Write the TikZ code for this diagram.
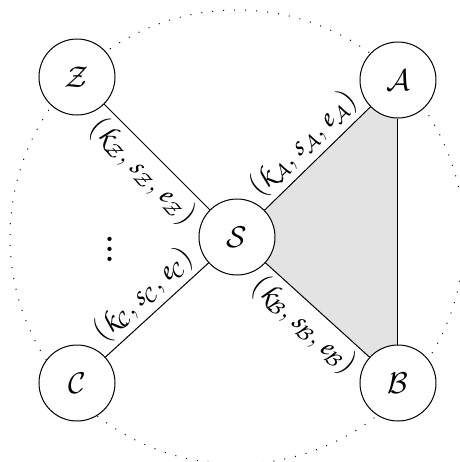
\documentclass[tikz,border=0pt]{standalone}
\DeclareMathAlphabet{\mathpzc}{OT1}{pzc}{m}{it}
\begin{document}
\begin{tikzpicture}[x=0.4pt,y=-0.4pt,
  party/.style={circle,draw,fill=white,minimum size=30.4pt,inner sep=0pt,font=\large},
  lab/.style={sloped,font=\large,inner sep=2pt}]
\useasboundingbox (0,0) rectangle (460,462);
\draw[dash pattern=on 0.4pt off 4pt] (237,237) circle[radius=227];
\coordinate (cS) at (237,237);
\coordinate (cA) at (398,80);
\coordinate (cB) at (398,383);
\fill[gray!22] (cS) -- (cA) -- (cB) -- cycle;
\node[party] (S) at (cS) {$\mathcal{S}$};
\node[party] (Z) at (77,77) {$\mathcal{Z}$};
\node[party] (A) at (cA) {$\mathcal{A}$};
\node[party] (C) at (77,383) {$\mathcal{C}$};
\node[party] (B) at (cB) {$\mathcal{B}$};
\draw (Z) -- node[lab,below] {$(\mathpzc{k}_{\mathcal{Z}},\mathpzc{s}_{\mathcal{Z}},\mathpzc{e}_{\mathcal{Z}})$} (S);
\draw (S) -- node[lab,above] {$(\mathpzc{k}_{\mathcal{A}},\mathpzc{s}_{\mathcal{A}},\mathpzc{e}_{\mathcal{A}})$} (A);
\draw (S) -- node[lab,below] {$(\mathpzc{k}_{\mathcal{B}},\mathpzc{s}_{\mathcal{B}},\mathpzc{e}_{\mathcal{B}})$} (B);
\draw (C) -- node[lab,above] {$(\mathpzc{k}_{\mathcal{C}},\mathpzc{s}_{\mathcal{C}},\mathpzc{e}_{\mathcal{C}})$} (S);
\draw (A) -- (B);
\node[font=\huge] (dots) at (110,242) {$\vdots$};
\end{tikzpicture}
\end{document}
